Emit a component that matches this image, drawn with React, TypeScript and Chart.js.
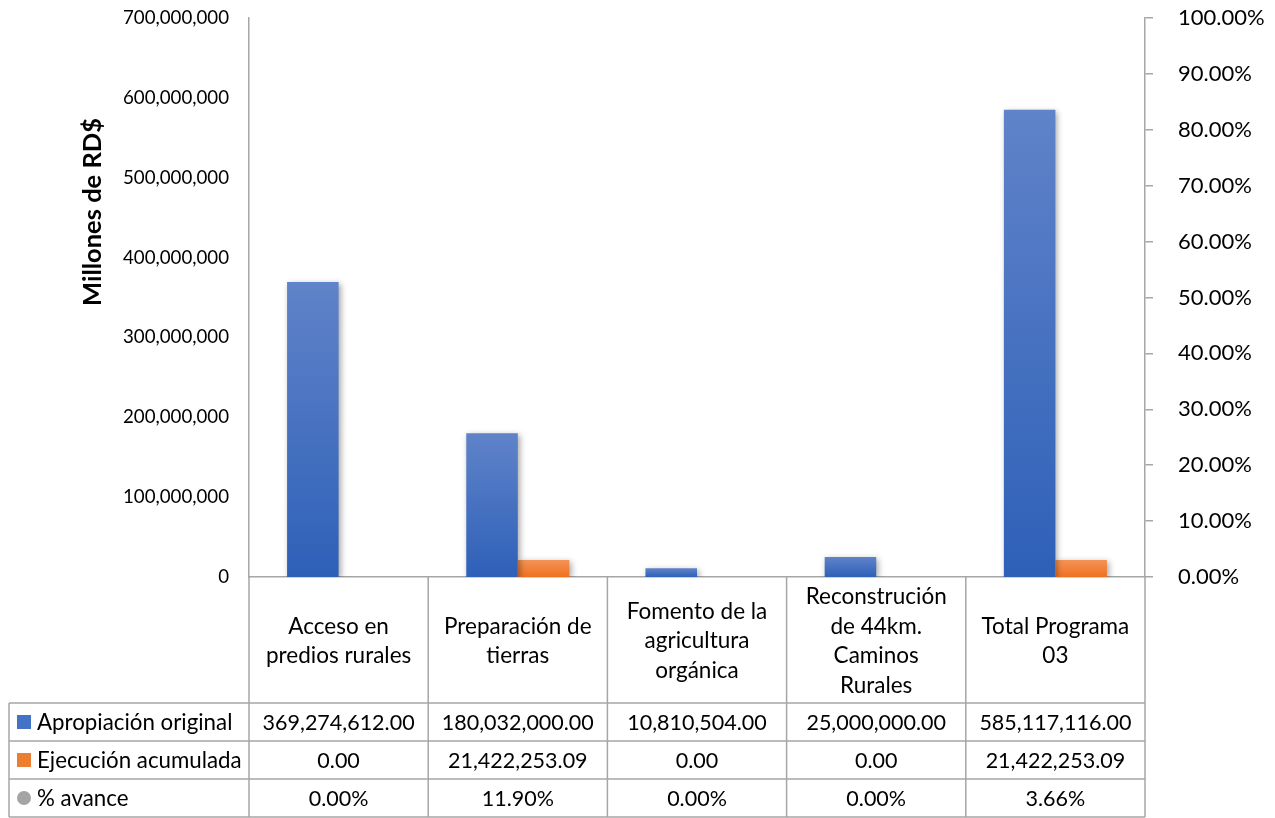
import React, { useEffect, useRef } from 'react';
import { Chart, registerables } from 'chart.js';

Chart.register(...registerables);

const categories: string[][] = [
  ['Acceso en', 'predios rurales'],
  ['Preparación de', 'tierras'],
  ['Fomento de la', 'agricultura', 'orgánica'],
  ['Reconstrución', 'de 44km.', 'Caminos', 'Rurales'],
  ['Total Programa', '03'],
];
const apropiacion = [369274612.0, 180032000.0, 10810504.0, 25000000.0, 585117116.0];
const ejecucion = [0.0, 21422253.09, 0.0, 0.0, 21422253.09];
const avance = [0.0, 11.9, 0.0, 0.0, 3.66];
const seriesNames = ['Apropiación original', 'Ejecución acumulada', '% avance'];
const leftTickStep = 100000000;
const leftMax = 700000000;
const rightTickStep = 10;
const rightMax = 100;
const axisTitle = 'Millones de RD$';

const FONT = 'Lato';
const GRID = '#a6a6a6';
const BLUE_TOP = '#6083c9';
const BLUE_BOT = '#2e60b8';
const ORG_TOP = '#f39356';
const ORG_BOT = '#ef7120';
const GRAY = '#a5a5a5';

function gradientFill(top: string, bot: string) {
  return (ctx: any) => {
    const chart = ctx.chart;
    const { chartArea, scales } = chart;
    if (!chartArea || ctx.type !== 'data') return bot;
    const v = ctx.parsed ? ctx.parsed.y : 0;
    const yTop = scales.y.getPixelForValue(v);
    const yBase = scales.y.getPixelForValue(0);
    if (yBase - yTop < 1) return bot;
    const g = chart.ctx.createLinearGradient(0, yTop, 0, yBase);
    g.addColorStop(0, top);
    g.addColorStop(1, bot);
    return g;
  };
}

const fmtNum = (v: number) =>
  v.toLocaleString('en-US', { minimumFractionDigits: 2, maximumFractionDigits: 2 });
const fmtPct = (v: number) => v.toFixed(2) + '%';

const shadowPlugin = {
  id: 'barShadow',
  beforeDatasetDraw(chart: any, args: any) {
    const ctx = chart.ctx;
    ctx.save();
    if (args.meta.type === 'bar') {
      ctx.shadowColor = 'rgba(0,0,0,0.35)';
      ctx.shadowBlur = 6;
      ctx.shadowOffsetX = 2;
      ctx.shadowOffsetY = 2;
    }
  },
  afterDatasetDraw(chart: any) {
    chart.ctx.restore();
  },
};

const tablePlugin = {
  id: 'dataTable',
  afterDraw(chart: any) {
    const ctx = chart.ctx;
    const { left, right, top, bottom } = chart.chartArea;
    const tableLeft = 9;
    const headerBottom = bottom + 126;
    const rowH = 38;
    const tableBottom = headerBottom + rowH * 3;
    const colW = (right - left) / categories.length;

    ctx.save();
    ctx.strokeStyle = GRID;
    ctx.lineWidth = 1.5;
    ctx.beginPath();
    for (let i = 0; i <= categories.length; i++) {
      const x = left + i * colW;
      ctx.moveTo(x, bottom);
      ctx.lineTo(x, tableBottom);
    }
    ctx.moveTo(tableLeft, headerBottom);
    ctx.lineTo(tableLeft, tableBottom);
    for (let r = 0; r <= 3; r++) {
      const y = headerBottom + r * rowH;
      ctx.moveTo(tableLeft, y);
      ctx.lineTo(right, y);
    }
    ctx.stroke();

    const rows = [
      apropiacion.map(fmtNum),
      ejecucion.map(fmtNum),
      avance.map(fmtPct),
    ];
    ctx.textBaseline = 'middle';
    for (let r = 0; r < 3; r++) {
      const cy = headerBottom + r * rowH + rowH / 2;
      // legend key
      ctx.fillStyle = r === 0 ? '#4472c4' : r === 1 ? '#ed7d31' : GRAY;
      if (r < 2) {
        ctx.fillRect(17, cy - 7, 14, 14);
      } else {
        ctx.beginPath();
        ctx.arc(24, cy, 7, 0, Math.PI * 2);
        ctx.fill();
      }
      ctx.fillStyle = '#000';
      ctx.textAlign = 'left';
      ctx.font = `22.3px ${FONT}`;
      ctx.fillText(seriesNames[r], 37, cy + 1);
      ctx.textAlign = 'center';
      ctx.font = `21.5px ${FONT}`;
      for (let c = 0; c < categories.length; c++) {
        const cx = chart.scales.x.getPixelForValue(c);
        ctx.fillText(rows[r][c], cx, cy + 1);
      }
    }

    // axis title
    ctx.translate(93, top + 194);
    ctx.rotate(-Math.PI / 2);
    ctx.font = `bold 25.5px ${FONT}`;
    ctx.textAlign = 'center';
    ctx.fillText(axisTitle, 0, 0);
    ctx.restore();
  },
};

function trimPadding(scale: any) {
  scale.paddingTop = 0;
  scale.paddingBottom = 0;
}

export default function App() {
  const ref = useRef<HTMLCanvasElement | null>(null);
  useEffect(() => {
    if (!ref.current) return;
    const chart = new Chart(ref.current, {
      type: 'bar',
      data: {
        labels: categories,
        datasets: [
          {
            type: 'bar',
            label: seriesNames[0],
            data: apropiacion,
            backgroundColor: gradientFill(BLUE_TOP, BLUE_BOT),
            yAxisID: 'y',
            barPercentage: 1,
            categoryPercentage: 0.575,
            order: 2,
          },
          {
            type: 'bar',
            label: seriesNames[1],
            data: ejecucion,
            backgroundColor: gradientFill(ORG_TOP, ORG_BOT),
            yAxisID: 'y',
            barPercentage: 1,
            categoryPercentage: 0.575,
            order: 2,
          },
          {
            type: 'line',
            label: seriesNames[2],
            data: avance,
            borderColor: 'rgba(0,0,0,0)',
            backgroundColor: GRAY,
            showLine: false,
            pointRadius: 0,
            yAxisID: 'y1',
            order: 1,
          } as any,
        ],
      },
      options: {
        responsive: false,
        animation: false,
        layout: { padding: { top: 18, left: 0, right: 0, bottom: 0 } },
        plugins: {
          legend: { display: false },
          tooltip: { enabled: false },
        },
        scales: {
          x: {
            grid: { display: false, drawTicks: false },
            border: { display: true, color: GRID, width: 1.5 },
            ticks: {
              color: '#000',
              font: { family: FONT, size: 22.5, lineHeight: 1.31 },
              crossAlign: 'center',
              padding: 20,
              maxRotation: 0,
              autoSkip: false,
            },
            afterFit(scale: any) {
              scale.height = 241;
            },
          },
          y: {
            position: 'left',
            min: 0,
            max: leftMax,
            grid: { display: false, drawTicks: false },
            border: { display: true, color: GRID, width: 1.5 },
            ticks: {
              stepSize: leftTickStep,
              color: '#000',
              font: { family: FONT, size: 18.7 },
              padding: 20,
              callback: (v: any) => Number(v).toLocaleString('en-US'),
            },
            afterFit(scale: any) {
              scale.width = 249;
              trimPadding(scale);
            },
          },
          y1: {
            position: 'right',
            min: 0,
            max: rightMax,
            grid: { display: true, drawOnChartArea: false, drawTicks: true, tickLength: 8, color: GRID, lineWidth: 1.5 },
            border: { display: true, color: GRID, width: 1.5 },
            ticks: {
              stepSize: rightTickStep,
              color: '#000',
              font: { family: FONT, size: 22 },
              padding: 25,
              callback: (v: any) => Number(v).toFixed(2) + '%',
            },
            afterFit(scale: any) {
              scale.width = 130;
              trimPadding(scale);
            },
          },
        },
      } as any,
      plugins: [shadowPlugin, tablePlugin],
    });
    return () => chart.destroy();
  }, []);
  return (
    <div style={{ position: 'fixed', left: 0, top: 0, width: 1275, height: 818, background: '#fff' }}>
      <canvas ref={ref} width={1275} height={818} />
    </div>
  );
}
